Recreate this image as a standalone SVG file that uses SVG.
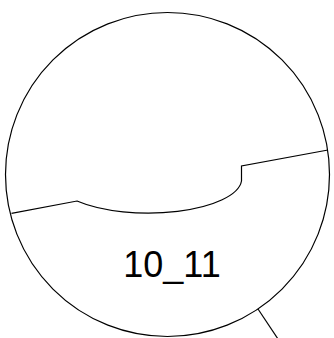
<svg xmlns="http://www.w3.org/2000/svg" width="334" height="338" viewBox="0 0 334 338">
<style>
.s{fill:none;stroke:#000;stroke-width:1.2}
.t{font-family:'Liberation Sans',Arimo,Arial,Helvetica,sans-serif;font-size:36px;fill:#000}
</style>
<rect width="334" height="338" fill="#fff"/>
<g id="node-10_11">
<circle class="s" cx="167.5" cy="174.5" r="162"/>
<text class="t" x="172" y="277" text-anchor="middle">10_11</text>
</g>
<g id="connectors">
<path class="s" d="M11.5,213.3 L77,201 A93.5,34.3 0 0 0 241.5,181 L241.5,166 L328,150"/>
<path class="s" d="M258,309 L280,342"/>
</g>
</svg>
